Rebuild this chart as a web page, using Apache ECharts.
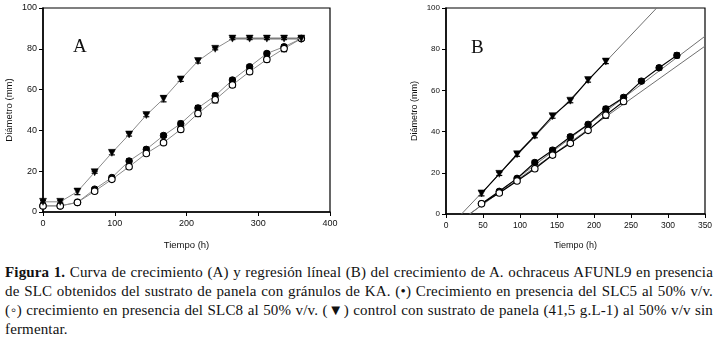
<!DOCTYPE html>
<html><head><meta charset="utf-8">
<script src="https://cdn.jsdelivr.net/npm/echarts@6/dist/echarts.min.js"></script>
<style>
html,body{margin:0;padding:0;background:#fff;}
#chart{position:absolute;left:0;top:0;width:718px;height:255px;}
#cap{position:absolute;left:5px;top:263px;width:708px;font-family:"Liberation Serif","DejaVu Serif",serif;font-size:15px;letter-spacing:0.15px;color:#111;line-height:19px;}
#cap div{text-align:justify;text-align-last:justify;white-space:nowrap;}
#cap div.last{text-align-last:left;}
</style></head>
<body>
<div id="chart"></div>
<div id="cap">
<div><b>Figura 1.</b> Curva de crecimiento (A) y regresión líneal (B) del crecimiento de A. ochraceus AFUNL9 en presencia</div>
<div>de SLC obtenidos del sustrato de panela con gránulos de KA. (•) Crecimiento en presencia del SLC5 al 50% v/v.</div>
<div>(◦) crecimiento en presencia del SLC8 al 50% v/v. (▼) control con sustrato de panela (41,5 g.L‑1) al 50% v/v sin</div>
<div class="last">fermentar.</div>
</div>
<script>
// ---- Panel A data ----
const timesA = [0,24,48,72,96,120,144,168,192,216,240,264,288,312,336,360];
const ctrlA  = [5,5,10,19.5,29,38,47.5,55.5,65,74,80,85,85,85,85,85];
const slc5A  = [3,3,4.7,11.2,16.9,25,30.7,37.5,43.3,51,57,64.7,71.2,77.7,81,85];
const slc8A  = [3,3,4.7,10.2,16,22.2,28.7,34,40.5,48.3,55,62.3,68.8,74.8,80.1,85];
const ctrlAErr = [0.5,0.5,1.5,0.5,1,0.8,0.8,1.5,1,1,0.5,0.5,0.5,0.5,0.5,0.5];
const slc5AErr = [0.5,0.5,0.5,0.8,0.8,1,1,1,1.2,1.2,1.2,1,1,1,1,0.5];
const slc8AErr = [0.5,0.5,0.5,0.8,0.8,1,1,1,1.2,1.5,1.5,1.2,1.2,1.2,1.5,0.5];
// ---- Panel B data ----
const timesBCtrl = [48,72,96,120,144,168,192,216];
const ctrlB      = [10,19.5,29,38,47.5,55,65,74];
const ctrlBErr   = [1.2,0.8,1,1,1,1,1,1];
const timesB5    = [48,72,96,120,144,168,192,216,240,264,288,312];
const slc5B      = [5,11,17.3,25,31,37.5,43.5,51,56.6,64.5,71,77];
const slc5BErr   = [0.5,0.8,0.8,1,1,1,1,1.2,1,1,1,1.2];
const timesB8    = [48,72,96,120,144,168,192,216,240];
const slc8B      = [5,10.2,16,22,28.6,34.3,40.6,48,54.6];
const slc8BErr   = [0.5,0.8,0.8,1,1,1,1,1.5,1.2];
// regression line end points
const regCtrl = [[21,0],[284.7,100]];
const regSlc5 = [[32.4,0],[350,86.3]];
const regSlc8 = [[31.6,0],[350,81.5]];

const pairs = (xs, ys) => xs.map((x,i)=>[x,ys[i]]);
const errs = (xs, ys, es) => xs.map((x,i)=>[x,ys[i],es[i]]);

const axisFont = {fontFamily:'"Liberation Sans", Arial, sans-serif', color:'#111'};
function errSeries(data, xi, yi){
  return {type:'custom', xAxisIndex:xi, yAxisIndex:yi, z:3, silent:true,
    renderItem:function(params, api){
      const x=api.value(0), y=api.value(1), e=api.value(2);
      const p1=api.coord([x,y+e]), p2=api.coord([x,y-e]);
      const w=3;
      const st={stroke:'#000', lineWidth:1.2};
      return {type:'group', children:[
        {type:'line', shape:{x1:p1[0],y1:p1[1],x2:p2[0],y2:p2[1]}, style:st},
        {type:'line', shape:{x1:p1[0]-w,y1:p1[1],x2:p1[0]+w,y2:p1[1]}, style:st},
        {type:'line', shape:{x1:p2[0]-w,y1:p2[1],x2:p2[0]+w,y2:p2[1]}, style:st}
      ]};
    }, data:data};
}
const fill = {type:'circle', size:6.5, style:{color:'#000', borderColor:'#000', borderWidth:1}};
const open = {type:'circle', size:6.5, style:{color:'#fff', borderColor:'#000', borderWidth:1.1}};
const tri = {type:'triangle', size:7, style:{color:'#000', borderColor:'#000', borderWidth:0.5}};

function lineSeries(xi, yi, data, sym, lineColor, lw, z, rotate){
  return {type:'line', xAxisIndex:xi, yAxisIndex:yi, data:data, symbol:sym.type, symbolSize:sym.size,
    symbolRotate:rotate||0, showSymbol:true, z:z, silent:true, animation:false,
    lineStyle:{color:lineColor, width:lw}, itemStyle:sym.style};
}

const chart = echarts.init(document.getElementById('chart'), null, {renderer:'canvas'});
const option = {
  animation:false,
  grid:[
    {left:43, top:8, width:287, height:205, show:true, borderColor:'#000', borderWidth:1.2},
    {left:446, top:8, width:259, height:212, show:true, borderColor:'#000', borderWidth:1.2}
  ],
  xAxis:[
    {gridIndex:0, type:'value', min:0, max:400, interval:100, name:'Tiempo (h)', nameLocation:'middle', nameGap:28,
     nameTextStyle:Object.assign({fontSize:9.5}, axisFont),
     axisLine:{onZero:false, lineStyle:{color:'#000', width:1.5}}, axisTick:{length:4, lineStyle:{color:'#000'}},
     axisLabel:Object.assign({fontSize:9, margin:7}, axisFont), splitLine:{show:false}},
    {gridIndex:1, type:'value', min:0, max:350, interval:50, name:'Tiempo (h)', nameLocation:'middle', nameGap:27,
     nameTextStyle:Object.assign({fontSize:9}, axisFont),
     axisLine:{onZero:false, lineStyle:{color:'#000', width:1.5}}, axisTick:{length:4, lineStyle:{color:'#000'}},
     axisLabel:Object.assign({fontSize:8.5, margin:7}, axisFont), splitLine:{show:false}}
  ],
  yAxis:[
    {gridIndex:0, type:'value', min:0, max:100, interval:20, name:'Diámetro (mm)', nameLocation:'middle', nameGap:29,
     nameTextStyle:Object.assign({fontSize:9.5}, axisFont),
     axisLine:{onZero:false, lineStyle:{color:'#000', width:1.5}}, axisTick:{length:4, lineStyle:{color:'#000'}},
     axisLabel:Object.assign({fontSize:9, margin:6}, axisFont), splitLine:{show:false}},
    {gridIndex:1, type:'value', min:0, max:100, interval:20, name:'Diámetro (mm)', nameLocation:'middle', nameGap:27,
     nameTextStyle:Object.assign({fontSize:9}, axisFont),
     axisLine:{onZero:false, lineStyle:{color:'#000', width:1.5}}, axisTick:{length:4, lineStyle:{color:'#000'}},
     axisLabel:Object.assign({fontSize:8, margin:6}, axisFont), splitLine:{show:false}}
  ],
  graphic:[
    {type:'text', left:73, top:38, style:{text:'A', fontFamily:'"Liberation Serif", serif', fontSize:19, fill:'#111'}},
    {type:'text', left:471, top:39, style:{text:'B', fontFamily:'"Liberation Serif", serif', fontSize:19, fill:'#111'}}
  ],
  series:[
    // Panel A
    lineSeries(0,0,pairs(timesA,slc5A), fill, '#8a8a8a', 1, 4),
    lineSeries(0,0,pairs(timesA,slc8A), open, '#8a8a8a', 1, 5),
    lineSeries(0,0,pairs(timesA,ctrlA), tri, '#8a8a8a', 1, 6, 180),
    {type:'line', xAxisIndex:0, yAxisIndex:0, data:pairs(timesA.slice(11), ctrlA.slice(11)), showSymbol:false, symbol:'none',
     lineStyle:{color:'#000', width:1.5}, z:5, silent:true},
    errSeries(errs(timesA,slc5A,slc5AErr),0,0),
    errSeries(errs(timesA,slc8A,slc8AErr),0,0),
    errSeries(errs(timesA,ctrlA,ctrlAErr),0,0),
    // Panel B regressions
    {type:'line', xAxisIndex:1, yAxisIndex:1, data:regCtrl, symbol:'none', lineStyle:{color:'#707070', width:1}, z:2, silent:true},
    {type:'line', xAxisIndex:1, yAxisIndex:1, data:regSlc5, symbol:'none', lineStyle:{color:'#707070', width:1}, z:2, silent:true},
    {type:'line', xAxisIndex:1, yAxisIndex:1, data:regSlc8, symbol:'none', lineStyle:{color:'#707070', width:1}, z:2, silent:true},
    lineSeries(1,1,pairs(timesB5,slc5B), fill, '#000', 1.2, 4),
    lineSeries(1,1,pairs(timesB8,slc8B), open, '#000', 1.2, 5),
    lineSeries(1,1,pairs(timesBCtrl,ctrlB), tri, '#000', 1.2, 6, 180),
    errSeries(errs(timesB5,slc5B,slc5BErr),1,1),
    errSeries(errs(timesB8,slc8B,slc8BErr),1,1),
    errSeries(errs(timesBCtrl,ctrlB,ctrlBErr),1,1)
  ]
};
chart.setOption(option);
</script>
</body></html>
